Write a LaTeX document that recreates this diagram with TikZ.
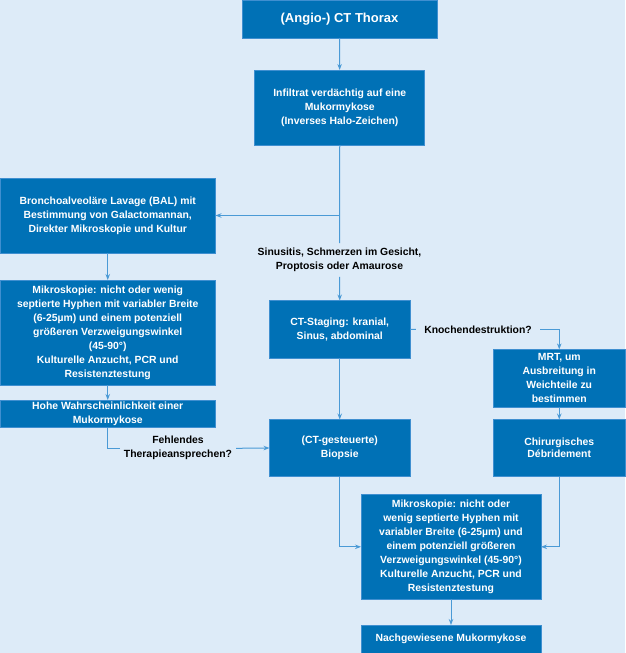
\documentclass[tikz,border=0pt]{standalone}
\usepackage{fontspec}
\setmainfont{Liberation Sans}
\usetikzlibrary{arrows.meta}
\definecolor{bgblue}{HTML}{DDEBF8}
\definecolor{boxblue}{HTML}{0071B6}
\definecolor{boxedge}{HTML}{3F8FD0}
\definecolor{linkblue}{HTML}{4A9AD6}
\begin{document}
\begin{tikzpicture}[x=1pt,y=-1pt,
  box/.style={rectangle, fill=boxblue, draw=boxedge, line width=0.6pt, inner sep=0pt, outer sep=0pt,
    text=white, align=center, font=\fontsize{10.4}{14}\selectfont\bfseries},
  lbl/.style={rectangle, inner sep=0pt, outer sep=0pt, text=black, align=center,
    font=\fontsize{10.4}{14}\selectfont\bfseries},
  link/.style={draw=linkblue, line width=1pt},
  arr/.style={link, -{Stealth[length=6pt,width=4.5pt]}}
]
\fill[bgblue] (0,0) rectangle (625,653);
\useasboundingbox (0,0) rectangle (625,653);

\node[box, minimum width=195pt, minimum height=38pt, font=\fontsize{13}{16}\selectfont\bfseries] (b1) at (339.5,19) {(Angio-) CT Thorax};
\node[box, minimum width=170pt, minimum height=75pt] (b2) at (339.75,107.5) {Infiltrat verdächtig auf eine\\Mukormykose\\(Inverses Halo-Zeichen)};
\node[box, minimum width=215.5pt, minimum height=75pt] (bal) at (107.75,215.5) {Bronchoalveoläre Lavage (BAL) mit\\Bestimmung von Galactomannan,\\Direkter Mikroskopie und Kultur};
\node[box, minimum width=215.5pt, minimum height=105pt] (mik1) at (107.75,332.5) {Mikroskopie: nicht oder wenig\\septierte Hyphen mit variabler Breite\\(6-25µm) und einem potenziell\\größeren Verzweigungswinkel\\(45-90°)\\Kulturelle Anzucht, PCR und\\Resistenztestung};
\node[box, minimum width=215.5pt, minimum height=27.5pt] (hohe) at (107.75,413.75) {Hohe Wahrscheinlichkeit einer\\Mukormykose};
\node[box, minimum width=140.5pt, minimum height=57.5pt] (ct) at (339.75,329.25) {CT-Staging: kranial,\\Sinus, abdominal};
\node[box, minimum width=140.5pt, minimum height=57pt] (bio) at (339.75,448) {(CT-gesteuerte)\\Biopsie};
\node[box, minimum width=131.5pt, minimum height=58pt] (mrt) at (559.25,378.4) {MRT, um\\Ausbreitung in\\Weichteile zu\\bestimmen};
\node[box, minimum width=131.5pt, minimum height=57pt, font=\fontsize{10.4}{12.5}\selectfont\bfseries] (chir) at (559.25,448) {Chirurgisches\\Débridement};
\node[box, minimum width=180pt, minimum height=105pt] (mik2) at (451,546.8) {Mikroskopie: nicht oder\\wenig septierte Hyphen mit\\variabler Breite (6-25µm) und\\einem potenziell größeren\\Verzweigungswinkel (45-90°)\\Kulturelle Anzucht, PCR und\\Resistenztestung};
\node[box, minimum width=180pt, minimum height=28pt] (nach) at (451,639) {Nachgewiesene Mukormykose};

\node[lbl, inner ysep=5pt] (sin) at (339.5,260) {Sinusitis, Schmerzen im Gesicht,\\Proptosis oder Amaurose};
\node[lbl, inner xsep=8.5pt] (kno) at (478,329.3) {Knochendestruktion?};
\node[lbl, inner xsep=4pt] (feh) at (178,448.3) {Fehlendes\\Therapieansprechen?};

\coordinate (br) at (b2.south |- bal.east);
\coordinate (kc) at (mrt.north |- kno.east);
\coordinate (hc) at (hohe.south |- feh.west);
\coordinate (bc) at (bio.south |- mik2.west);
\coordinate (cc) at (chir.south |- mik2.east);

\draw[arr] (b1) -- (b2);
\draw[link] (b2.south) -- (sin.north);
\draw[arr] (br) -- (bal.east);
\draw[arr] (sin.south) -- (ct.north);
\draw[arr] (bal) -- (mik1);
\draw[arr] (mik1) -- (hohe);
\draw[link] (ct.east) -- (kno.west);
\draw[arr] (kno.east) -- (kc) -- (mrt.north);
\draw[arr] (mrt) -- (chir);
\draw[arr] (ct) -- (bio);
\draw[link] (hohe.south) -- (hc) -- (feh.west);
\draw[arr] (feh.east) -- (bio.west);
\draw[arr] (bio.south) -- (bc) -- (mik2.west);
\draw[arr] (chir.south) -- (cc) -- (mik2.east);
\draw[arr] (mik2) -- (nach);
\end{tikzpicture}
\end{document}
